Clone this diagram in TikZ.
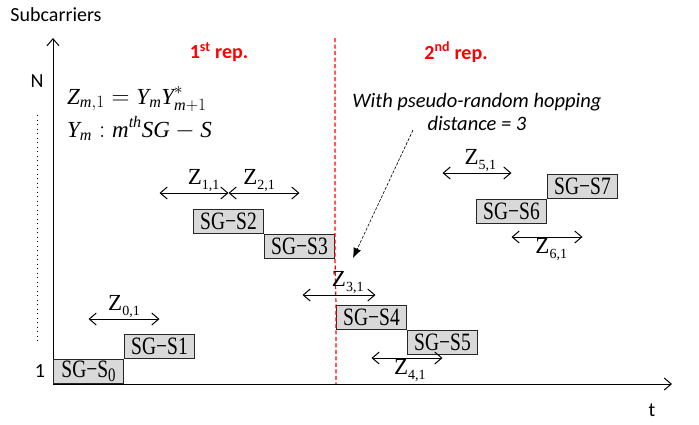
\documentclass[tikz,border=0pt]{standalone}
\usepackage{fontspec}
\setmainfont{Liberation Serif}
\newfontfamily\calfont{Carlito}
\newfontfamily\sgfont[FakeStretch=0.78]{Liberation Serif}
\usepackage{tikz}
\usetikzlibrary{
  arrows.meta,
  positioning,
  calc
}
\definecolor{sgFill}{HTML}{D9D9D9}
\definecolor{sgEdge}{HTML}{262626}
\definecolor{repRed}{HTML}{FF0000}
\newcommand{\lowidx}[1]{\raisebox{-5pt}{\fontsize{14}{14}\selectfont #1}}
\newcommand{\boxidx}[1]{\raisebox{-4pt}{\fontsize{19}{19}\selectfont #1}}
\tikzset{
  sgbox/.style={
    draw=sgEdge, fill=sgFill, line width=1pt, minimum width=70pt,
    minimum height=24pt, inner sep=0pt, font=\sgfont\fontsize{25}{25}\selectfont
  },
  zarrow/.style={{Straight Barb[length=7pt,width=12pt]}-{Straight Barb[length=7pt,width=12pt]}, line width=1pt},
  zlabel/.style={font=\fontsize{23}{23}\selectfont, inner sep=1pt},
  axisarrow/.style={-{Straight Barb[length=7pt,width=12pt]}, line width=1pt},
  axislabel/.style={font=\calfont\fontsize{20}{20}\selectfont, inner sep=0pt},
  replabel/.style={font=\calfont\bfseries\fontsize{20}{20}\selectfont, text=repRed},
  repline/.style={repRed, line width=1.2pt, dash pattern=on 4pt off 2.5pt},
  hoparrow/.style={-{Latex[length=10pt,width=8pt]}, line width=0.6pt, dash pattern=on 3pt off 1.5pt},
  hopnote/.style={font=\calfont\itshape\fontsize{20.5}{23}\selectfont, align=center},
  formula/.style={font=\fontsize{23}{23}\selectfont, inner sep=0pt, anchor=base west}
}

\begin{document}
\begin{tikzpicture}[x=1pt, y=-1pt]
  \useasboundingbox (0,0) rectangle (699,424);
  % axes
  \coordinate (o) at (53,384);
  \coordinate (ytop) at (53,38);
  \coordinate (xend) at (672,384);
  \draw[axisarrow] (o) -- (ytop);
  \draw[axisarrow] (o) -- (xend);
  \node[axislabel] (ylab) at (56,15) {Subcarriers};
  \node[axislabel] (nlab) at (37,81) {N};
  \node[axislabel] (onelab) at (40,371) {1};
  \node[axislabel] (tlab) at (652,410) {t};
  \coordinate (dottop) at (37,115);
  \coordinate (dotbot) at (37,343);
  \draw[line width=0.8pt, dash pattern=on 1pt off 3.5pt] (dottop) -- (dotbot);

  % sub-group symbols
  \node[sgbox, anchor=south west] (s0) at (o) {SG−S\boxidx{0}};
  \node[sgbox, anchor=south west] (s1) at (s0.north east) {SG−S1};
  \node[sgbox, anchor=north west] (s2) at (193,209) {SG−S2};
  \node[sgbox, anchor=north west] (s3) at (s2.south east) {SG−S3};
  \node[sgbox, anchor=north west] (s4) at (336,305) {SG−S4};
  \node[sgbox, anchor=north west] (s5) at (s4.south east) {SG−S5};
  \node[sgbox, anchor=north west] (s6) at (476,199) {SG−S6};
  \node[sgbox, anchor=south west] (s7) at (s6.north east) {SG−S7};

  % repetition border
  \draw[repline] (s3.north east |- ytop) -- (s3.south east) -- (s4.north west) -- (s4.north west |- o);
  \node[replabel] (rep1) at (219,52) {1\textsuperscript{st} rep.};
  \node[replabel] (rep2) at (456,52) {2\textsuperscript{nd} rep.};

  % differential pairs
  \draw[zarrow] (s0.center |- 0,319) -- node[zlabel, above] {Z\lowidx{0,1}} (s1.center |- 0,319);
  \draw[zarrow] (s1.center |- 0,193) -- node[zlabel, above, pos=0.64] {Z\lowidx{1,1}} (s2.center |- 0,193);
  \draw[zarrow] (s2.center |- 0,193) -- node[zlabel, above, pos=0.43] {Z\lowidx{2,1}} (s3.center |- 0,193);
  \draw[zarrow] ($(s3.center |- 0,295)+(3,0)$) -- node[zlabel, above, pos=0.62] {Z\lowidx{3,1}} ($(s4.center |- 0,295)+(4,0)$);
  \draw[zarrow] (s4.center |- 0,358) -- node[zlabel, below, pos=0.54] {Z\lowidx{4,1}} (s5.center |- 0,358);
  \draw[zarrow] (s5.center |- 0,173) -- node[zlabel, above, pos=0.55] {Z\lowidx{5,1}} (s6.center |- 0,173);
  \draw[zarrow] (s6.center |- 0,237) -- node[zlabel, below, pos=0.56] {Z\lowidx{6,1}} (s7.center |- 0,237);

  % definitions
  \node[formula] (eq1) at (67,104) {$\mathit{Z}_{\mathit{m},1} = \mathit{Y}_{\mathit{m}}\mathit{Y}^{*}_{\mathit{m}+1}$};
  \node[formula] (eq2) at (67,137) {$\mathit{Y}_{\mathit{m}} : \mathit{m}^{\mathit{th}}\mathit{SG}-\mathit{S}$};

  % hopping note
  \node[hopnote] (hop) at (477,112) {With pseudo-random hopping\\distance = 3};
  \coordinate (hoptail) at (413,130);
  \coordinate (hoptip) at (353,258);
  \draw[hoparrow] (hoptail) -- (hoptip);
\end{tikzpicture}
\end{document}
